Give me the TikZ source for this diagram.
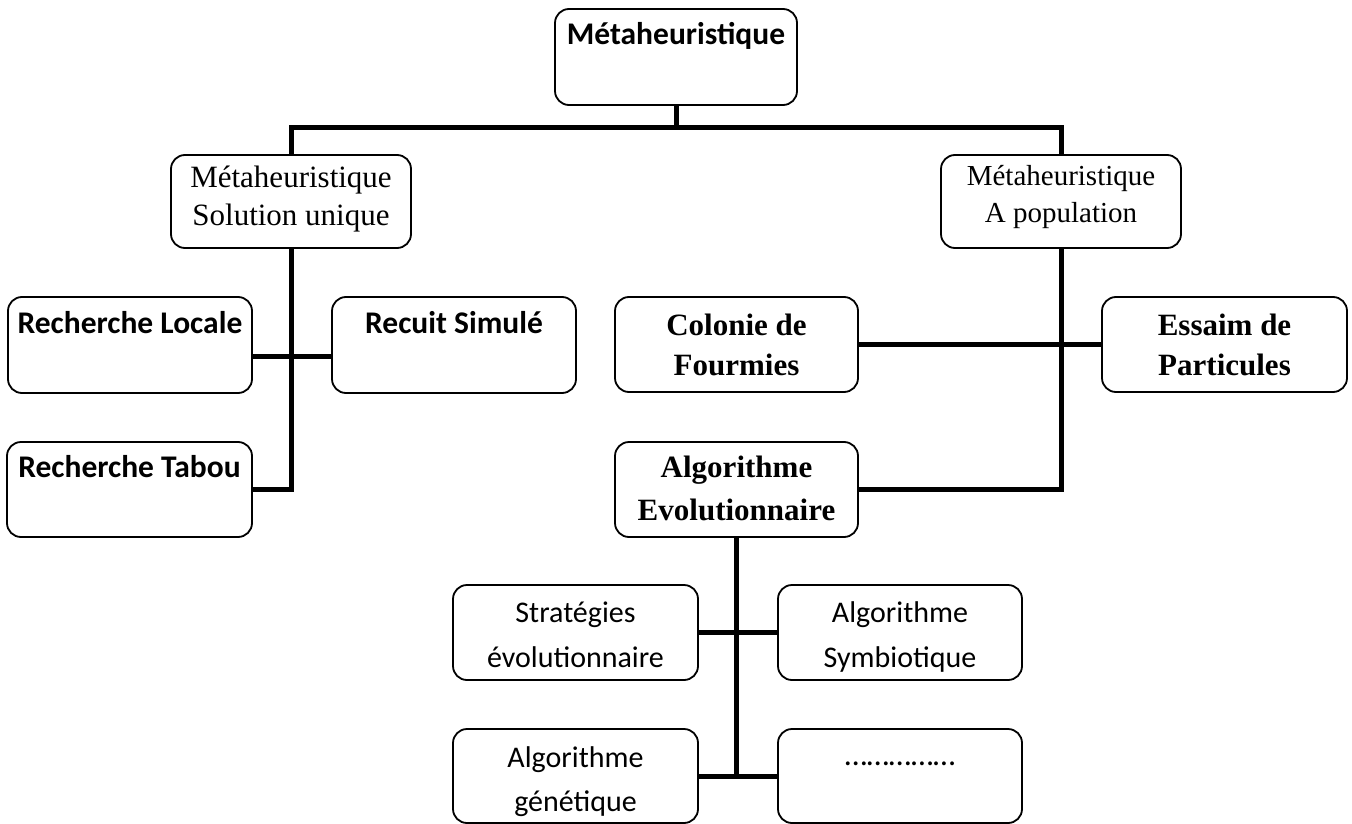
\documentclass[tikz,border=0pt]{standalone}
\usepackage{fontspec}
\setmainfont{Liberation Serif}
\newfontfamily\calfont{Carlito}
\begin{document}
\begin{tikzpicture}[x=1pt,y=-1pt,
  bx/.style={draw, rounded corners=14pt, line width=1.8pt, inner sep=0pt, minimum width=243pt, minimum height=95pt},
  conn/.style={line width=5pt},
  cb/.style={anchor=base, inner sep=0pt, font=\calfont\bfseries\fontsize{31.5}{37}\selectfont},
  cr/.style={anchor=base, inner sep=0pt, font=\calfont\fontsize{30}{36}\selectfont},
  tr/.style={anchor=base, inner sep=0pt, font=\fontsize{31}{37}\selectfont},
  trs/.style={anchor=base, inner sep=0pt, font=\fontsize{29}{35}\selectfont},
  tb/.style={anchor=base, inner sep=0pt, font=\bfseries\fontsize{31}{37}\selectfont}]
\useasboundingbox (0,0) rectangle (1352,824);
% boxes
\node[bx, minimum width=242pt, minimum height=96pt] (T) at (676,57) {};
\node[bx, minimum width=240pt, minimum height=93pt] (LM) at (291,201.5) {};
\node[bx, minimum width=240pt, minimum height=93pt] (RM) at (1061,201.5) {};
\node[bx, minimum width=244pt, minimum height=96pt] (RL) at (130,345) {};
\node[bx, minimum width=244pt, minimum height=96pt] (RS) at (454,345) {};
\node[bx, minimum width=245pt] (RT) at (129.5,489.5) {};
\node[bx] (CF) at (736.5,344.5) {};
\node[bx, minimum width=245pt] (EP) at (1224.5,344.5) {};
\node[bx] (AE) at (736.5,489.5) {};
\node[bx, minimum width=245pt] (SE) at (575.5,632.5) {};
\node[bx, minimum width=244pt] (SY) at (900,632.5) {};
\node[bx, minimum width=245pt, minimum height=94pt] (AG) at (575.5,776) {};
\node[bx, minimum width=244pt, minimum height=94pt] (DT) at (900,776) {};
% texts
\node[cb] (tT) at (676,45) {Métaheuristique};
\node[tr] (tLM1) at (291,187) {Métaheuristique};
\node[tr] (tLM2) at (291,225) {Solution unique};
\node[trs] (tRM1) at (1061,185) {Métaheuristique};
\node[trs] (tRM2) at (1061,222) {A population};
\node[cb] (tRL) at (130,333) {Recherche Locale};
\node[cb] (tRS) at (454,333) {Recuit Simulé};
\node[cb] (tRT) at (129.5,477) {Recherche Tabou};
\node[tb] (tCF1) at (736.5,335) {Colonie de};
\node[tb] (tCF2) at (736.5,375) {Fourmies};
\node[tb] (tEP1) at (1224.5,335) {Essaim de};
\node[tb] (tEP2) at (1224.5,375) {Particules};
\node[tb] (tAE1) at (736.5,477) {Algorithme};
\node[tb] (tAE2) at (736.5,520) {Evolutionnaire};
\node[cr] (tSE1) at (575.5,622) {Stratégies};
\node[cr] (tSE2) at (575.5,667) {évolutionnaire};
\node[cr] (tSY1) at (900,622) {Algorithme};
\node[cr] (tSY2) at (900,667) {Symbiotique};
\node[cr] (tAG1) at (575.5,767) {Algorithme};
\node[cr] (tAG2) at (575.5,811) {génétique};
\node[cr, font=\calfont\fontsize{32}{38}\selectfont] (tDT) at (900,765) {……………};
% connectors
\coordinate (h) at (0,128);
\draw[conn] (T.south) -- (T.south |- h);
\draw[conn] (LM.north) -- (LM.north |- h) -- (RM.north |- h) -- (RM.north);
\draw[conn] (LM.south) |- (RT.east);
\draw[conn] ([yshift=-11pt]RL.east) -- ([yshift=-11pt]RS.west);
\draw[conn] (RM.south) |- (AE.east);
\draw[conn] (CF.east) -- (EP.west);
\draw[conn] (AE.south) -- (AE.south |- AG.east);
\draw[conn] (SE.east) -- (SY.west);
\draw[conn] (AG.east) -- (DT.west);
\end{tikzpicture}
\end{document}
